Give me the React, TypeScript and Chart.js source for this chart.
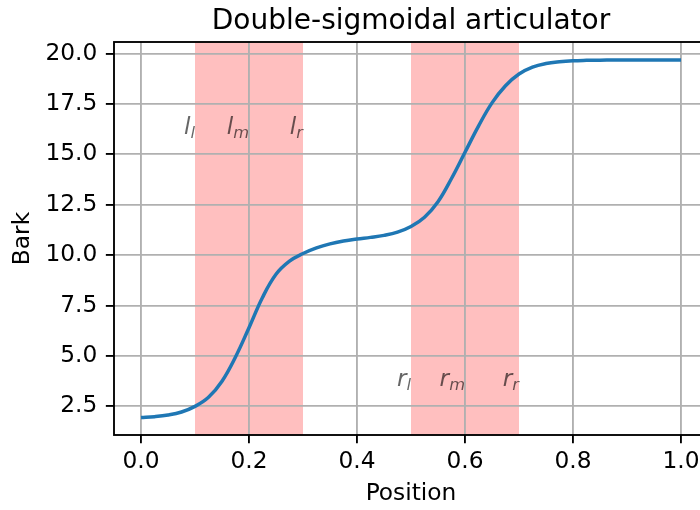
import React, { useEffect, useRef } from "react";
import { Chart, registerables } from "chart.js";

Chart.register(...registerables);

// ---- data ----
const positions = [
  0, 0.025, 0.05, 0.075, 0.1, 0.125, 0.15, 0.175, 0.2, 0.225, 0.25, 0.275, 0.3,
  0.325, 0.35, 0.375, 0.4, 0.425, 0.45, 0.475, 0.5, 0.525, 0.55, 0.575, 0.6,
  0.625, 0.65, 0.675, 0.7, 0.725, 0.75, 0.775, 0.8, 0.825, 0.85, 0.875, 0.9,
  0.925, 0.95, 0.975, 1.0,
];
const bark = [
  1.95, 1.99, 2.07, 2.22, 2.5, 2.95, 3.75, 4.95, 6.4, 7.9, 9.05, 9.7, 10.08,
  10.36, 10.56, 10.7, 10.8, 10.88, 10.98, 11.14, 11.42, 11.88, 12.65, 13.8, 15.1,
  16.4, 17.55, 18.4, 18.98, 19.32, 19.5, 19.59, 19.64, 19.66, 19.67, 19.68, 19.68,
  19.68, 19.68, 19.68, 19.68,
];
const xTicks = [0, 0.2, 0.4, 0.6, 0.8, 1.0];
const yTicks = [2.5, 5.0, 7.5, 10.0, 12.5, 15.0, 17.5, 20.0];
const xRange = [-0.05, 1.05];
const yRange = [1.08, 20.57];
const spanStarts = [0.1, 0.5];
const spanEnds = [0.3, 0.7];
const leftMarkerX = [0.1, 0.2, 0.3];
const rightMarkerX = [0.5, 0.6, 0.7];
const markerSubs = ["l", "m", "r"];
const leftMarkerBase = "l";
const rightMarkerBase = "r";
const leftMarkerY = 16;
const rightMarkerY = 3.5;
const TITLE = "Double-sigmoidal articulator";
const X_LABEL = "Position";
const Y_LABEL = "Bark";

const FONT = '"DejaVu Sans", sans-serif';
const PT = 2.33;

const decorPlugin = {
  id: "decor",
  beforeDraw(chart: any) {
    const { ctx, chartArea: a, scales } = chart;
    const x = scales.x;
    ctx.save();
    ctx.fillStyle = "#ffbfbf";
    spanStarts.forEach((s, i) => {
      const x0 = x.getPixelForValue(s);
      const x1 = x.getPixelForValue(spanEnds[i]);
      ctx.fillRect(x0, a.top, x1 - x0, a.bottom - a.top);
    });
    ctx.restore();
  },
  afterDraw(chart: any) {
    const { ctx, chartArea: a, scales } = chart;
    const x = scales.x;
    const y = scales.y;
    ctx.save();
    // frame
    ctx.strokeStyle = "#000";
    ctx.lineWidth = 0.8 * PT;
    ctx.strokeRect(a.left, a.top, a.right - a.left, a.bottom - a.top);
    // title
    ctx.fillStyle = "#000";
    ctx.font = `28px ${FONT}`;
    ctx.textAlign = "center";
    ctx.textBaseline = "alphabetic";
    ctx.fillText(TITLE, (a.left + a.right) / 2, a.top - 6 * PT + 1);
    // markers
    const drawMarker = (base: string, sub: string, xv: number, yv: number) => {
      const px = x.getPixelForValue(xv);
      const py = y.getPixelForValue(yv);
      ctx.font = `italic 23.3px ${FONT}`;
      const wMain = ctx.measureText(base).width;
      ctx.font = `italic 16.3px ${FONT}`;
      const wSub = ctx.measureText(sub).width;
      const start = px - wMain - wSub;
      ctx.fillStyle = "rgba(0,0,0,0.6)";
      ctx.textAlign = "left";
      ctx.font = `italic 23.3px ${FONT}`;
      ctx.fillText(base, start, py);
      ctx.font = `italic 16.3px ${FONT}`;
      ctx.fillText(sub, start + wMain, py + 4);
    };
    leftMarkerX.forEach((xv, i) => drawMarker(leftMarkerBase, markerSubs[i], xv, leftMarkerY));
    rightMarkerX.forEach((xv, i) => drawMarker(rightMarkerBase, markerSubs[i], xv, rightMarkerY));
    ctx.restore();
  },
};

export default function App() {
  const ref = useRef<HTMLCanvasElement | null>(null);

  useEffect(() => {
    document.body.style.margin = "0";
    const canvas = ref.current;
    if (!canvas) return;
    const chart = new Chart(canvas, {
      type: "line",
      data: {
        datasets: [
          {
            data: positions.map((p, i) => ({ x: p, y: bark[i] })),
            borderColor: "#1f77b4",
            borderWidth: 1.5 * PT,
            pointRadius: 0,
            fill: false,
            tension: 0.4,
            borderCapStyle: "butt",
            borderJoinStyle: "round",
          },
        ],
      },
      options: {
        responsive: false,
        animation: false,
        devicePixelRatio: 1,
        layout: { padding: { top: 42, right: 12, bottom: 0, left: 0 } },
        plugins: {
          legend: { display: false },
          tooltip: { enabled: false },
          title: { display: false },
        },
        scales: {
          x: {
            type: "linear",
            min: xRange[0],
            max: xRange[1],
            afterBuildTicks: (s: any) => {
              s.ticks = xTicks.map((v) => ({ value: v }));
            },
            afterFit: (s: any) => {
              s.height = 75;
            },
            border: { display: false },
            grid: {
              color: "#b0b0b0",
              lineWidth: 0.8 * PT,
              drawTicks: true,
              tickLength: 3.5 * PT,
              tickColor: "#000",
              tickWidth: 0.8 * PT,
            },
            ticks: {
              color: "#000",
              font: { family: FONT, size: 23.3 },
              padding: 5,
              maxRotation: 0,
              autoSkip: false,
              callback: (v: any) => Number(v).toFixed(1),
            },
            title: {
              display: true,
              text: X_LABEL,
              color: "#000",
              font: { family: FONT, size: 23.3 },
              padding: { top: 0, bottom: 2 },
            },
          },
          y: {
            type: "linear",
            min: yRange[0],
            max: yRange[1],
            afterBuildTicks: (s: any) => {
              s.ticks = yTicks.map((v) => ({ value: v }));
            },
            afterFit: (s: any) => {
              s.width = 114;
            },
            border: { display: false },
            grid: {
              color: "#b0b0b0",
              lineWidth: 0.8 * PT,
              drawTicks: true,
              tickLength: 3.5 * PT,
              tickColor: "#000",
              tickWidth: 0.8 * PT,
            },
            ticks: {
              color: "#000",
              font: { family: FONT, size: 23.3 },
              padding: 8.5,
              autoSkip: false,
              callback: (v: any) => Number(v).toFixed(1),
            },
            title: {
              display: true,
              text: Y_LABEL,
              color: "#000",
              font: { family: FONT, size: 23.3 },
              padding: { top: 9, bottom: 0 },
            },
          },
        },
      },
      plugins: [decorPlugin],
    } as any);
    return () => chart.destroy();
  }, []);

  return (
    <div
      style={{
        position: "fixed",
        left: 0,
        top: 0,
        width: 700,
        height: 510,
        overflow: "hidden",
        background: "#fff",
      }}
    >
      <canvas ref={ref} width={720} height={510} style={{ display: "block" }} />
    </div>
  );
}
